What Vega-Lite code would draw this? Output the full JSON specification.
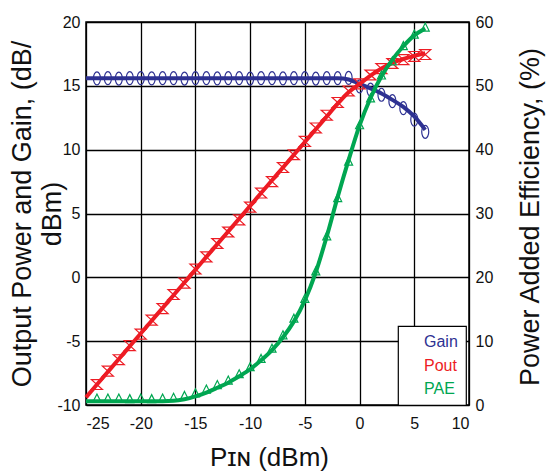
{
  "$schema": "https://vega.github.io/schema/vega-lite/v6.json",
  "width": 383,
  "height": 383,
  "autosize": {"type": "none"},
  "padding": {"left": 86, "top": 22, "right": 79, "bottom": 66},
  "background": "white",
  "config": {
    "font": "Liberation Sans",
    "view": {"stroke": "black", "strokeWidth": 1.5},
    "axis": {
      "grid": true, "gridColor": "black", "gridOpacity": 1, "gridWidth": 1.3,
      "domain": false, "ticks": false, "tickSize": 0,
      "labelExpr": "toString(datum.value)",
      "labelFont": "Liberation Sans", "labelFontSize": 16, "labelColor": "#111111",
      "titleFont": "Liberation Sans", "titleFontSize": 26, "titleFontWeight": "normal", "titleColor": "#111111"
    },
    "legend": {
      "orient": "none", "legendX": 312, "legendY": 304,
      "fillColor": "white", "strokeColor": "black", "strokeWidth": 1.2,
      "padding": 8, "rowPadding": 7.5,
      "symbolSize": 100, "symbolOpacity": 0, "symbolStrokeWidth": 0, "labelOffset": 2,
      "labelFont": "Liberation Sans", "labelFontSize": 16, "zindex": 2
    }
  },
  "data": {"values": [
    {"pin": -25, "gain_fit": 15.6, "gain": null, "pout_fit": -9.4, "pout": null, "pae_fit": 0.6, "pae": null},
    {"pin": -24, "gain_fit": 15.6, "gain": 15.58, "pout_fit": -8.4, "pout": -8.4, "pae_fit": 0.6, "pae": 1.1},
    {"pin": -23, "gain_fit": 15.6, "gain": 15.6, "pout_fit": -7.4, "pout": -7.35, "pae_fit": 0.6, "pae": 1.1},
    {"pin": -22, "gain_fit": 15.6, "gain": 15.57, "pout_fit": -6.4, "pout": -6.45, "pae_fit": 0.6, "pae": 1.1},
    {"pin": -21, "gain_fit": 15.6, "gain": 15.6, "pout_fit": -5.4, "pout": -5.35, "pae_fit": 0.6, "pae": 1.0},
    {"pin": -20, "gain_fit": 15.6, "gain": 15.6, "pout_fit": -4.4, "pout": -4.45, "pae_fit": 0.6, "pae": 1.1},
    {"pin": -19, "gain_fit": 15.6, "gain": 15.58, "pout_fit": -3.4, "pout": -3.35, "pae_fit": 0.6, "pae": 1.0},
    {"pin": -18, "gain_fit": 15.6, "gain": 15.6, "pout_fit": -2.4, "pout": -2.45, "pae_fit": 0.6, "pae": 1.1},
    {"pin": -17, "gain_fit": 15.6, "gain": 15.6, "pout_fit": -1.4, "pout": -1.35, "pae_fit": 0.65, "pae": 1.2},
    {"pin": -16, "gain_fit": 15.6, "gain": 15.57, "pout_fit": -0.4, "pout": -0.45, "pae_fit": 0.9, "pae": 1.5},
    {"pin": -15, "gain_fit": 15.6, "gain": 15.6, "pout_fit": 0.6, "pout": 0.65, "pae_fit": 1.35, "pae": 1.9},
    {"pin": -14, "gain_fit": 15.6, "gain": 15.6, "pout_fit": 1.6, "pout": 1.6, "pae_fit": 1.95, "pae": 2.5},
    {"pin": -13, "gain_fit": 15.6, "gain": 15.58, "pout_fit": 2.6, "pout": 2.65, "pae_fit": 2.7, "pae": 3.2},
    {"pin": -12, "gain_fit": 15.6, "gain": 15.6, "pout_fit": 3.6, "pout": 3.55, "pae_fit": 3.5, "pae": 3.9},
    {"pin": -11, "gain_fit": 15.6, "gain": 15.6, "pout_fit": 4.6, "pout": 4.5, "pae_fit": 4.5, "pae": 4.9},
    {"pin": -10, "gain_fit": 15.6, "gain": 15.57, "pout_fit": 5.6, "pout": 5.5, "pae_fit": 5.6, "pae": 6.0},
    {"pin": -9, "gain_fit": 15.6, "gain": 15.6, "pout_fit": 6.6, "pout": 6.6, "pae_fit": 7.0, "pae": 7.3},
    {"pin": -8, "gain_fit": 15.6, "gain": 15.6, "pout_fit": 7.6, "pout": 7.5, "pae_fit": 8.6, "pae": 8.9},
    {"pin": -7, "gain_fit": 15.6, "gain": 15.58, "pout_fit": 8.6, "pout": 8.6, "pae_fit": 10.6, "pae": 11.0},
    {"pin": -6, "gain_fit": 15.6, "gain": 15.6, "pout_fit": 9.6, "pout": 9.6, "pae_fit": 13.1, "pae": 13.6},
    {"pin": -5, "gain_fit": 15.6, "gain": 15.6, "pout_fit": 10.6, "pout": 10.65, "pae_fit": 16.4, "pae": 16.7},
    {"pin": -4, "gain_fit": 15.6, "gain": 15.57, "pout_fit": 11.6, "pout": 11.7, "pae_fit": 20.8, "pae": 21.0},
    {"pin": -3, "gain_fit": 15.6, "gain": 15.6, "pout_fit": 12.6, "pout": 12.7, "pae_fit": 26.4, "pae": 26.5},
    {"pin": -2, "gain_fit": 15.6, "gain": 15.6, "pout_fit": 13.6, "pout": 13.7, "pae_fit": 32.6, "pae": 32.5},
    {"pin": -1, "gain_fit": 15.5, "gain": 15.62, "pout_fit": 14.5, "pout": 14.6, "pae_fit": 38.4, "pae": 38.2},
    {"pin": 0, "gain_fit": 15.15, "gain": 14.95, "pout_fit": 15.15, "pout": 15.15, "pae_fit": 43.8, "pae": 43.9},
    {"pin": 1, "gain_fit": 14.8, "gain": 14.7, "pout_fit": 15.8, "pout": 15.85, "pae_fit": 48.1, "pae": 48.1},
    {"pin": 2, "gain_fit": 14.4, "gain": 14.3, "pout_fit": 16.35, "pout": 16.35, "pae_fit": 51.5, "pae": 51.7},
    {"pin": 3, "gain_fit": 13.9, "gain": 13.8, "pout_fit": 16.8, "pout": 16.75, "pae_fit": 54.1, "pae": 53.9},
    {"pin": 4, "gain_fit": 13.35, "gain": 13.25, "pout_fit": 17.1, "pout": 17.05, "pae_fit": 56.2, "pae": 56.3},
    {"pin": 5, "gain_fit": 12.6, "gain": 12.35, "pout_fit": 17.35, "pout": 17.3, "pae_fit": 57.9, "pae": 58.1},
    {"pin": 6, "gain_fit": 11.55, "gain": 11.4, "pout_fit": 17.55, "pout": 17.45, "pae_fit": 59.0, "pae": 59.2}
  ]},
  "encoding": {
    "x": {
      "field": "pin", "type": "quantitative",
      "scale": {"domain": [-25, 10], "nice": false, "zero": false},
      "axis": {
        "values": [-25, -20, -15, -10, -5, 0, 5, 10],
        "labelPadding": 10,
        "title": "Pɪɴ (dBm)",
        "titleX": 183, "titleY": 60, "titleBaseline": "alphabetic", "titleAlign": "center"
      }
    },
    "color": {
      "datum": "Gain", "type": "nominal",
      "scale": {"domain": ["Gain", "Pout", "PAE"], "range": ["#2E3192", "#ED1C24", "#00A651"]},
      "legend": {
        "title": null,
        "labelExpr": "datum.label + ' '",
        "encode": {"labels": {"update": {"fill": {"scale": "color", "field": "value"}}}}
      }
    }
  },
  "layer": [
    {
      "encoding": {
        "y": {
          "type": "quantitative",
          "scale": {"domain": [-10, 20], "nice": false, "zero": false},
          "axis": {
            "orient": "left",
            "values": [-10, -5, 0, 5, 10, 15, 20],
            "labelPadding": 6,
            "title": ["Output Power and Gain, (dB/", "dBm)    "],
            "titleFontSize": 27,
            "titleAngle": -90, "titleLineHeight": 30,
            "titleX": -56, "titleY": 191.5, "titleBaseline": "alphabetic", "titleAlign": "center"
          }
        }
      },
      "layer": [
        {
          "mark": {"type": "line", "strokeWidth": 4, "interpolate": "monotone"},
          "encoding": {"y": {"field": "gain_fit", "type": "quantitative"}, "color": {"datum": "Gain"}}
        },
        {
          "mark": {"type": "point", "shape": "M0,-1A0.54,1 0 1,1 0,1A0.54,1 0 1,1 0,-1Z", "filled": false, "strokeWidth": 1.2, "size": 169, "opacity": 1},
          "encoding": {"y": {"field": "gain", "type": "quantitative"}, "color": {"datum": "Gain"}}
        },
        {
          "mark": {"type": "line", "strokeWidth": 4, "interpolate": "monotone"},
          "encoding": {"y": {"field": "pout_fit", "type": "quantitative"}, "color": {"datum": "Pout"}}
        },
        {
          "mark": {"type": "point", "shape": "M-1,-0.9L1,-0.9L-1,0.9L1,0.9Z", "filled": false, "strokeWidth": 1.2, "size": 121, "opacity": 1},
          "encoding": {"y": {"field": "pout", "type": "quantitative"}, "color": {"datum": "Pout"}}
        }
      ]
    },
    {
      "encoding": {
        "y": {
          "type": "quantitative",
          "scale": {"domain": [0, 60], "nice": false, "zero": false},
          "axis": {
            "orient": "right", "grid": false,
            "values": [0, 10, 20, 30, 40, 50, 60],
            "labelPadding": 6,
            "title": "Power Added Efficiency, (%)",
            "titleFontSize": 27,
            "titleAngle": -90,
            "titleX": 69, "titleY": 194.5, "titleBaseline": "alphabetic", "titleAlign": "center"
          }
        }
      },
      "layer": [
        {
          "mark": {"type": "line", "strokeWidth": 4, "interpolate": "monotone"},
          "encoding": {"y": {"field": "pae_fit", "type": "quantitative"}, "color": {"datum": "PAE"}}
        },
        {
          "mark": {"type": "point", "shape": "M0,-1L1,1L-1,1Z", "filled": false, "strokeWidth": 1.2, "size": 64, "opacity": 1},
          "encoding": {"y": {"field": "pae", "type": "quantitative"}, "color": {"datum": "PAE"}}
        }
      ]
    }
  ],
  "resolve": {"scale": {"y": "independent"}}
}
